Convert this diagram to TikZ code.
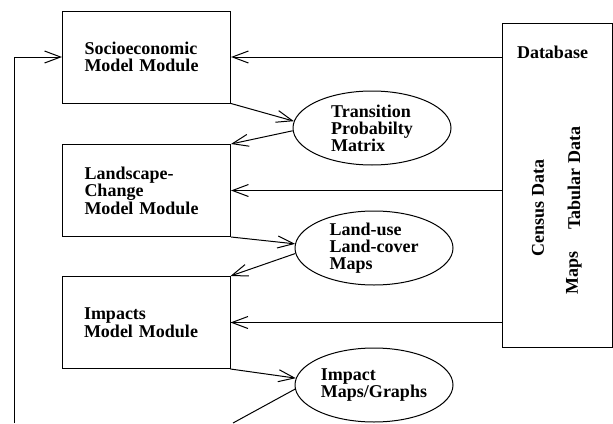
\documentclass[tikz,border=0pt]{standalone}
\usepackage{fontspec}
\setmainfont{Liberation Serif}
\usetikzlibrary{arrows.meta,shapes.geometric}
\begin{document}
\begin{tikzpicture}[
    x=1pt, y=-1pt,
    module/.style={draw, line width=1pt, minimum width=168pt, minimum height=92pt, text width=124pt, inner xsep=22pt, align=left, font=\bfseries\fontsize{18}{17.5}\selectfont},
    product/.style={ellipse, draw, line width=1pt, minimum width=158pt, minimum height=74pt, inner sep=0pt, align=left, font=\bfseries\fontsize{18}{17}\selectfont},
    store/.style={draw, line width=1pt, minimum width=110pt, minimum height=324pt, inner sep=0pt},
    dlbl/.style={font=\bfseries\fontsize{18}{18}\selectfont, inner sep=0pt},
    flow/.style={-{Straight Barb[length=16pt,width=12pt]}, line width=1pt}
]
\useasboundingbox (0,0) rectangle (613,423);

% Model modules
\node[module] (socio) at (146.5,57) {Socioeconomic\\Model Module};
\node[module] (land) at (146.5,190.5) {Landscape-\\Change\\Model Module};
\node[module] (impacts) at (146,322.5) {Impacts\\Model Module};

% Outputs
\node[product] (trans) at (372,128) {Transition\\Probabilty\\Matrix};
\node[product] (lulc) at (374,248) {Land-use\\Land-cover\\Maps};
\node[product] (impmap) at (374,385) {Impact\\Maps/Graphs};

% Database
\node[store] (db) at (557,185) {};
\node[dlbl, anchor=base] (dbtitle) at (552.5,58) {Database};
\node[dlbl, rotate=90] (census) at (538,208) {Census Data};
\node[dlbl, rotate=90] (tabular) at (574,178) {Tabular Data};
\node[dlbl, rotate=90] (maps) at (574,273) {Maps};

% Feedback loop ends
\coordinate (loopin) at (14,423);
\coordinate (loopout) at (233,423);

% Module chain
\draw[flow] (socio.south east) -- (trans.175);
\draw[flow] (trans.182) -- (land.north east);
\draw[flow] (land.south east) -- (lulc.177);
\draw[flow] (lulc.184) -- (impacts.north east);
\draw[flow] (impacts.south east) -- (impmap.175);
\draw[line width=1pt] (impmap.183) -- (loopout);
\draw[flow] (loopin) |- (socio.west);

% Database feeds
\draw[flow] (db.west |- socio.east) -- (socio.east);
\draw[flow] (db.west |- land.east) -- (land.east);
\draw[flow] (db.west |- impacts.east) -- (impacts.east);

\end{tikzpicture}
\end{document}
